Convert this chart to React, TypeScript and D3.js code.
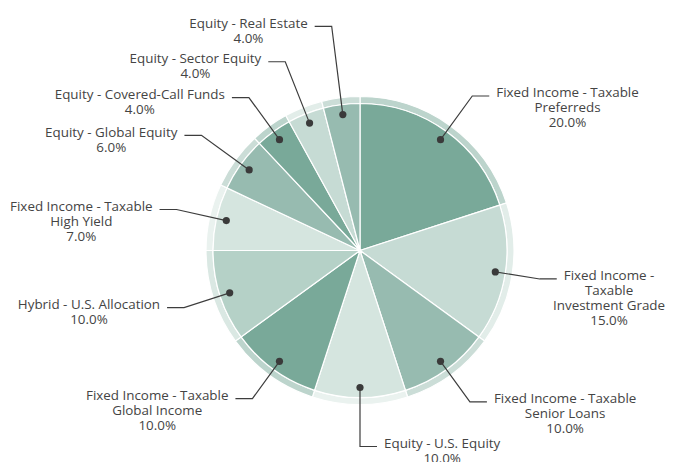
import React, { useEffect, useRef } from "react";
import * as d3 from "d3";

const categories = [
  "Fixed Income - Taxable|Preferreds",
  "Fixed Income -|Taxable|Investment Grade",
  "Fixed Income - Taxable|Senior Loans",
  "Equity - U.S. Equity",
  "Fixed Income - Taxable|Global Income",
  "Hybrid - U.S. Allocation",
  "Fixed Income - Taxable|High Yield",
  "Equity - Global Equity",
  "Equity - Covered-Call Funds",
  "Equity - Sector Equity",
  "Equity - Real Estate",
];
const values = [20, 15, 10, 10, 10, 10, 7, 6, 4, 4, 4];
const colors = [
  "#79a999", "#c6dbd4", "#97bbb0", "#d5e5df", "#79a999", "#b5d1c7",
  "#d5e5df", "#97bbb0", "#79a999", "#c6dbd4", "#97bbb0",
];
const elbowRadii = [191, 182, 187, 196, 183, 185, 188, 196, 189, 203, 226];

const W = 673;
const H = 462;
const CX = 360;
const CY = 250.5;
const R_IN = 147;
const R_OUT = 154;
const R_DOT = 137;
const FONT = "'Open Sans', sans-serif";
const FS = 13.4;
const LH = 15;

export default function App() {
  const ref = useRef<SVGSVGElement>(null);
  useEffect(() => {
    const svg = d3.select(ref.current);
    svg.selectAll("*").remove();
    const g = svg.append("g").attr("transform", `translate(${CX},${CY})`);
    const pie = d3.pie<number>().sort(null).value((d) => d);
    const arcs = pie(values);
    const ring = d3.arc<d3.PieArcDatum<number>>().innerRadius(R_IN).outerRadius(R_OUT);
    const main = d3.arc<d3.PieArcDatum<number>>().innerRadius(0).outerRadius(R_IN);

    g.selectAll("path.ring")
      .data(arcs)
      .join("path")
      .attr("class", "ring")
      .attr("d", ring)
      .attr("fill", (_, i) => colors[i])
      .attr("fill-opacity", 0.5)
      .attr("stroke", "#fff")
      .attr("stroke-width", 1.2);
    g.selectAll("path.main")
      .data(arcs)
      .join("path")
      .attr("class", "main")
      .attr("d", main)
      .attr("fill", (_, i) => colors[i])
      .attr("stroke", "#fff")
      .attr("stroke-width", 1.2);

    arcs.forEach((a, i) => {
      const mid = (a.startAngle + a.endAngle) / 2;
      const sx = Math.sin(mid), sy = -Math.cos(mid);
      const dx = R_DOT * sx, dy = R_DOT * sy;
      const ex = elbowRadii[i] * sx, ey = elbowRadii[i] * sy;
      const right = sx >= -0.001;
      const hx = ex + (right ? 17 : -17);
      g.append("path")
        .attr("d", `M${dx},${dy}L${ex},${ey}L${hx},${ey}`)
        .attr("fill", "none")
        .attr("stroke", "#3d3d3d")
        .attr("stroke-width", 1.2);
      g.append("circle").attr("cx", dx).attr("cy", dy).attr("r", 3.6).attr("fill", "#3a3a3a");

      const lines = categories[i].split("|").concat([values[i].toFixed(1) + "%"]);
      const t = g.append("text")
        .attr("font-family", FONT)
        .attr("font-size", FS)
        .attr("fill", "#444")
        .attr("text-anchor", "middle");
      const spans = lines.map((l, k) =>
        t.append("tspan").attr("y", ey + 1.5 + k * LH).text(l)
      );
      const w0 = (spans[0].node() as SVGTSpanElement).getComputedTextLength();
      const cx = right ? hx + 7 + w0 / 2 : hx - 7 - w0 / 2;
      spans.forEach((s) => s.attr("x", cx));
    });
  }, []);
  return (
    <svg
      ref={ref}
      width={W}
      height={H}
      style={{ position: "absolute", left: 0, top: 0, background: "#fff" }}
    />
  );
}
